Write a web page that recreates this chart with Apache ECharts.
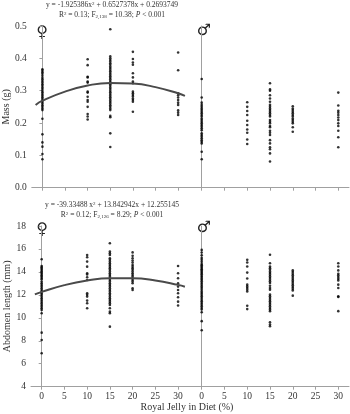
<!DOCTYPE html>
<html>
<head>
<meta charset="utf-8">
<script src="https://cdn.jsdelivr.net/npm/echarts@6/dist/echarts.min.js"></script>
<style>
  html, body { margin: 0; background: #fff; }
  #main { width: 350px; height: 414px; }
</style>
</head>
<body>
<div id="main"></div>
<script>
// royal jelly doses (%) and tick labels
const doses = [0, 10, 15, 20, 30];
const xTicks = [0, 5, 10, 15, 20, 25, 30];

// Mass (g), one list per dose
const massFemale = [
  [0.366, 0.362, 0.357, 0.352, 0.346, 0.34, 0.335, 0.33, 0.325, 0.32, 0.315, 0.31, 0.305, 0.3, 0.295, 0.29, 0.285, 0.28, 0.275, 0.27, 0.265, 0.26, 0.255, 0.25, 0.245, 0.24, 0.213, 0.165, 0.14, 0.127, 0.104, 0.088],
  [0.397, 0.379, 0.343, 0.341, 0.328, 0.325, 0.297, 0.294, 0.281, 0.271, 0.266, 0.25, 0.228, 0.22, 0.211],
  [0.49, 0.406, 0.4, 0.395, 0.39, 0.385, 0.38, 0.375, 0.37, 0.365, 0.36, 0.355, 0.35, 0.345, 0.34, 0.335, 0.33, 0.325, 0.32, 0.315, 0.31, 0.305, 0.3, 0.295, 0.29, 0.285, 0.28, 0.275, 0.27, 0.265, 0.26, 0.255, 0.25, 0.245, 0.24, 0.222, 0.218, 0.168, 0.126],
  [0.42, 0.398, 0.387, 0.38, 0.354, 0.341, 0.328, 0.323, 0.297, 0.292, 0.287, 0.282, 0.276, 0.271, 0.266, 0.235],
  [0.418, 0.363, 0.292, 0.286, 0.279, 0.271, 0.263, 0.256, 0.239, 0.232, 0.225]
];
const massMale = [
  [0.336, 0.279, 0.263, 0.256, 0.25, 0.245, 0.24, 0.235, 0.23, 0.225, 0.22, 0.214, 0.209, 0.204, 0.199, 0.194, 0.189, 0.184, 0.178, 0.168, 0.163, 0.158, 0.153, 0.147, 0.142, 0.137, 0.111, 0.088],
  [0.264, 0.25, 0.237, 0.225, 0.207, 0.194, 0.18, 0.17, 0.149, 0.135],
  [0.323, 0.304, 0.3, 0.286, 0.276, 0.266, 0.256, 0.25, 0.245, 0.24, 0.235, 0.23, 0.225, 0.22, 0.209, 0.204, 0.199, 0.191, 0.187, 0.176, 0.17, 0.163, 0.147, 0.137, 0.125, 0.119, 0.106, 0.081],
  [0.252, 0.245, 0.24, 0.235, 0.23, 0.225, 0.22, 0.214, 0.209, 0.204, 0.199, 0.187, 0.173],
  [0.294, 0.254, 0.238, 0.232, 0.225, 0.217, 0.209, 0.199, 0.191, 0.176, 0.156, 0.125]
];

// Abdomen length (mm), one list per dose
const abdFemale = [
  [15.1, 14.52, 14.41, 14.29, 14.18, 14.06, 13.94, 13.83, 13.71, 13.6, 13.48, 13.36, 13.16, 13.01, 12.87, 12.72, 12.58, 12.43, 12.29, 12.14, 12.0, 11.85, 11.71, 11.56, 11.41, 11.27, 11.12, 10.98, 10.83, 10.69, 10.4, 8.71, 8.07, 6.91],
  [15.48, 15.28, 14.9, 14.46, 13.88, 13.77, 13.53, 13.3, 12.14, 12.0, 11.85, 11.5, 11.27, 10.83],
  [16.5, 15.77, 15.63, 15.48, 15.19, 15.05, 14.9, 14.76, 14.61, 14.46, 14.32, 14.18, 14.03, 13.88, 13.74, 13.6, 13.45, 13.3, 13.16, 13.01, 12.87, 12.72, 12.58, 12.43, 12.29, 12.14, 12.0, 11.85, 11.71, 11.56, 11.41, 11.27, 11.12, 10.83, 10.54, 10.4, 9.23],
  [15.7, 15.4, 15.19, 14.99, 14.82, 14.61, 14.46, 14.32, 14.18, 14.03, 13.88, 13.74, 13.6, 13.45, 13.3, 13.16, 13.01, 12.58, 12.43],
  [14.52, 13.88, 13.45, 13.01, 12.72, 12.43, 12.14, 11.79, 11.41, 11.07]
];
const abdMale = [
  [15.92, 15.69, 15.45, 15.22, 15.05, 14.88, 14.7, 14.58, 14.47, 14.36, 14.24, 14.13, 14.01, 13.9, 13.79, 13.67, 13.56, 13.43, 13.32, 13.18, 13.03, 12.89, 12.74, 12.6, 12.45, 12.3, 12.16, 12.02, 11.87, 11.73, 11.58, 11.44, 11.3, 11.15, 11.01, 10.86, 10.72, 10.49, 9.71, 8.92],
  [15.05, 14.82, 14.47, 13.94, 13.43, 12.89, 12.74, 12.6, 12.45, 12.3, 11.05, 10.76],
  [15.5, 14.76, 14.47, 14.33, 14.19, 14.04, 13.9, 13.76, 13.61, 13.47, 13.32, 13.18, 13.03, 12.8, 12.6, 12.45, 12.02, 11.87, 11.73, 11.58, 11.44, 11.3, 11.15, 11.01, 10.86, 10.72, 10.58, 9.62, 9.42, 9.27],
  [14.13, 13.99, 13.84, 13.7, 13.55, 13.41, 13.26, 13.12, 12.97, 12.83, 12.68, 12.54, 12.39, 11.93],
  [14.76, 14.47, 14.13, 13.84, 13.7, 13.55, 13.41, 13.26, 12.89, 12.6, 11.87, 11.81, 10.58]
];

// fitted curves (female)
const fitX = [-1.5, 0, 5, 10, 15, 20, 25, 30, 31.5];
const massFit = [0.256, 0.269, 0.297, 0.316, 0.324, 0.322, 0.311, 0.292, 0.284];
const abdFit = [12.04, 12.26, 12.85, 13.25, 13.45, 13.45, 13.26, 12.87, 12.71];

const font = "Liberation Serif";
const axisGray = "#a0a0a0";
const textCol = "#333";

function points(groups) {
  let out = [];
  groups.forEach((vals, i) => {
    vals.forEach((v) => out.push([doses[i], v]));
  });
  return out;
}

function xAxis(grid, min, max, labels) {
  return {
    type: "value",
    gridIndex: grid,
    min: min,
    max: max,
    splitLine: { show: false },
    axisLine: { lineStyle: { color: axisGray, width: 1 } },
    axisTick: { show: true, length: 3, customValues: xTicks, lineStyle: { color: axisGray } },
    axisLabel: {
      show: labels,
      customValues: xTicks,
      color: textCol,
      fontFamily: font,
      fontSize: 9.5,
      margin: 5,
    },
  };
}

function eqText(x, y, txt) {
  return {
    type: "text",
    x: x,
    y: y,
    style: {
      text: txt,
      fill: textCol,
      font: "7.5px " + font,
      align: "center",
      verticalAlign: "middle",
      rich: {
        sup: { fontSize: 5, fontFamily: font, fill: textCol, verticalAlign: "top", padding: [0, 0, 3, 0] },
        sub: { fontSize: 5, fontFamily: font, fill: textCol, verticalAlign: "bottom" },
        it: { fontSize: 7.5, fontFamily: font, fontStyle: "italic", fill: textCol },
      },
    },
  };
}

function sexText(x, y, s) {
  return {
    type: "text",
    x: x,
    y: y,
    style: {
      text: s,
      fill: "#222",
      font: "16px 'DejaVu Sans'",
      align: "center",
      verticalAlign: "middle",
    },
  };
}

var chart = echarts.init(document.getElementById("main"), null, { renderer: "canvas" });

var option = {
  animation: false,
  backgroundColor: "#fff",
  grid: [
    { left: 31, top: 26, width: 162.3, height: 161.7 },
    { left: 193.3, top: 26, width: 155.7, height: 161.7 },
    { left: 31, top: 226, width: 162.3, height: 160.7 },
    { left: 193.3, top: 226, width: 155.7, height: 160.7 },
  ],
  xAxis: [
    xAxis(0, -2.35, 33.35, false),
    xAxis(1, -1.845, 32.35, false),
    xAxis(2, -2.35, 33.35, true),
    xAxis(3, -1.845, 32.35, true),
  ],
  yAxis: [
    {
      type: "value",
      gridIndex: 0,
      min: 0,
      max: 0.5,
      interval: 0.1,
      name: "Mass (g)",
      nameLocation: "middle",
      nameGap: 18,
      nameTextStyle: { color: textCol, fontFamily: font, fontSize: 10 },
      splitLine: { show: false },
      axisLine: { show: true, lineStyle: { color: axisGray } },
      axisTick: { show: true, length: 3, lineStyle: { color: axisGray } },
      axisLabel: {
        color: textCol,
        fontFamily: font,
        fontSize: 9.5,
        margin: 5,
        formatter: (v) => v.toFixed(1),
      },
    },
    {
      type: "value",
      gridIndex: 1,
      min: 0,
      max: 0.5,
      interval: 0.1,
      splitLine: { show: false },
      axisLine: { show: true, lineStyle: { color: axisGray } },
      axisTick: { show: false },
      axisLabel: { show: false },
    },
    {
      type: "value",
      gridIndex: 2,
      min: 4,
      max: 18,
      interval: 2,
      name: "Abdomen length (mm)",
      nameLocation: "middle",
      nameGap: 18,
      nameTextStyle: { color: textCol, fontFamily: font, fontSize: 10 },
      splitLine: { show: false },
      axisLine: { show: true, lineStyle: { color: axisGray } },
      axisTick: { show: true, length: 3, lineStyle: { color: axisGray } },
      axisLabel: { color: textCol, fontFamily: font, fontSize: 9.5, margin: 5 },
    },
    {
      type: "value",
      gridIndex: 3,
      min: 4,
      max: 18,
      interval: 2,
      splitLine: { show: false },
      axisLine: { show: true, lineStyle: { color: axisGray } },
      axisTick: { show: false },
      axisLabel: { show: false },
    },
  ],
  series: [
    { type: "scatter", xAxisIndex: 0, yAxisIndex: 0, data: points(massFemale) },
    { type: "scatter", xAxisIndex: 1, yAxisIndex: 1, data: points(massMale) },
    { type: "scatter", xAxisIndex: 2, yAxisIndex: 2, data: points(abdFemale) },
    { type: "scatter", xAxisIndex: 3, yAxisIndex: 3, data: points(abdMale) },
    {
      type: "line",
      xAxisIndex: 0,
      yAxisIndex: 0,
      smooth: true,
      showSymbol: false,
      data: fitX.map((x, i) => [x, massFit[i]]),
      lineStyle: { color: "#4a4a4a", width: 2 },
    },
    {
      type: "line",
      xAxisIndex: 2,
      yAxisIndex: 2,
      smooth: true,
      showSymbol: false,
      data: fitX.map((x, i) => [x, abdFit[i]]),
      lineStyle: { color: "#4a4a4a", width: 2 },
    },
  ].map((s) => {
    if (s.type === "scatter") {
      s.symbol = "circle";
      s.symbolSize = 2.6;
      s.itemStyle = { color: "#000" };
    }
    return s;
  }),
  graphic: [
    // regression equations
    eqText(112, 5, "y = -1.925386x{sup|2} + 0.6527378x + 0.2693749"),
    eqText(112, 15, "R{sup|2} = 0.13; F{sub|2,138} = 10.38; {it|P} < 0.001"),
    eqText(112, 205, "y = -39.33488 x{sup|2} + 13.842942x + 12.255145"),
    eqText(112, 215, "R{sup|2} = 0.12; F{sub|2,126} = 8.29; {it|P} < 0.001"),
    // sex symbols
    sexText(42, 33, "♀"),
    sexText(204, 31, "♂"),
    sexText(42, 230, "♀"),
    sexText(204, 228, "♂"),
    // shared x axis title
    {
      type: "text",
      x: 187,
      y: 407,
      style: {
        text: "Royal Jelly in Diet (%)",
        fill: textCol,
        font: "10px " + font,
        align: "center",
        verticalAlign: "middle",
      },
    },
  ],
};

option && chart.setOption(option);
</script>
</body>
</html>
